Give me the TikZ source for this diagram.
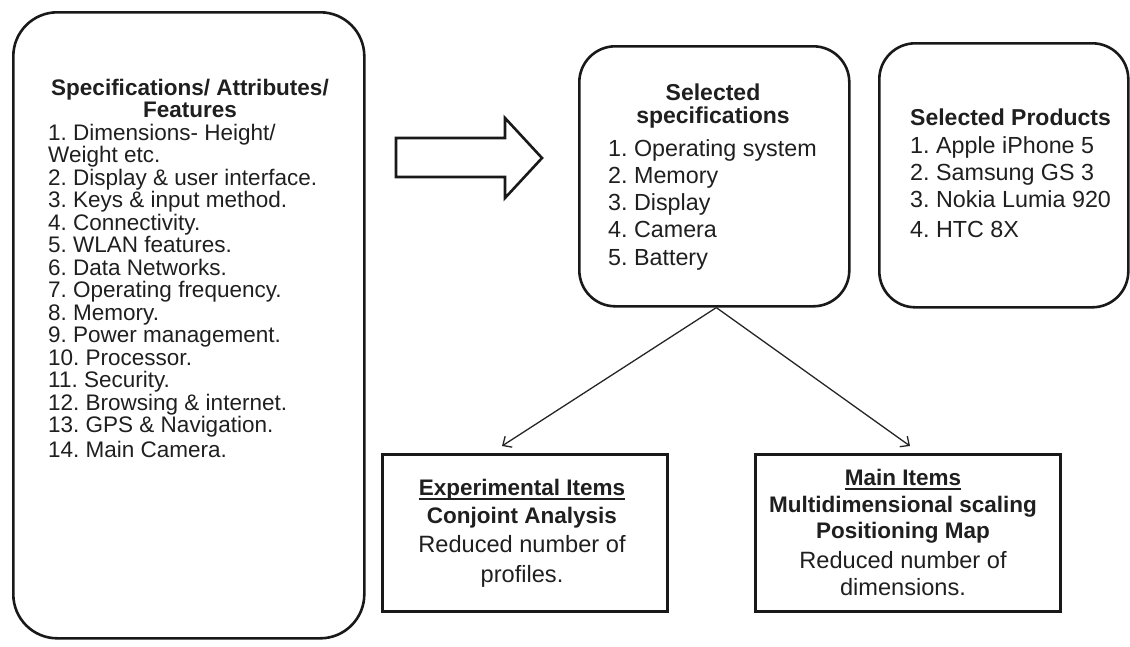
\documentclass[tikz,border=0pt]{standalone}
\usepackage{fontspec}
\setmainfont{Liberation Sans}
\usetikzlibrary{arrows.meta,calc}
\frenchspacing

\begin{document}
\begin{tikzpicture}[x=1pt,y=-1pt,
  rbox/.style={draw=black!90, line width=2.6pt, rectangle, inner sep=0pt, anchor=north west},
  sbox/.style={draw=black!90, line width=3.4pt, rectangle, inner sep=0pt, anchor=north west},
  txt/.style={anchor=base west, inner sep=0pt, text=black!88, font=\fontsize{#1}{22}\selectfont},
  txt/.default=22.5,
  ctxt/.style={anchor=base, inner sep=0pt, text=black!88, font=\fontsize{#1}{22}\selectfont},
  ctxt/.default=22.5,
  btxt/.style={anchor=base, inner sep=0pt, text=black!88, font=\fontsize{#1}{22}\selectfont\bfseries},
  btxt/.default=22.5,
  uline/.style={draw=black!88, line width=1.2pt},
  conn/.style={draw=black!85, line width=1.3pt, -{Straight Barb[length=7pt,width=13pt,line width=1.3pt]}}
]
\useasboundingbox (0,0) rectangle (1130,646);

% boxes
\node[rbox, rounded corners=44pt, minimum width=351pt, minimum height=626pt] (feat) at (12,11) {};
\node[rbox, rounded corners=36pt, minimum width=270pt, minimum height=260pt] (specs) at (578,45) {};
\node[rbox, rounded corners=36pt, minimum width=249pt, minimum height=264pt] (prod) at (878,42) {};
\node[sbox, minimum width=285pt, minimum height=157pt] (exp) at (381,453) {};
\node[sbox, minimum width=305pt, minimum height=157pt] (mds) at (754,453) {};

% block arrow between the feature list and the selection
\draw[draw=black!90, line width=2.6pt, fill=white, line join=miter]
  (396,138) -- (505,138) -- (505,118) -- (542,158) -- (505,198) -- (505,177) -- (396,177) -- cycle;

% feature list
\node[btxt] (ft1) at (190,95) {Specifications/ Attributes/};
\node[btxt] (ft2) at (190,117) {Features};
\node[txt] (f1)  at (48,140)   {1. Dimensions- Height/};
\node[txt] (f1b) at (48,162.5) {Weight etc.};
\node[txt] (f2)  at (48,185)   {2. Display \& user interface.};
\node[txt] (f3)  at (48,207.5) {3. Keys \& input method.};
\node[txt] (f4)  at (48,230)   {4. Connectivity.};
\node[txt] (f5)  at (48,252.5) {5. WLAN features.};
\node[txt] (f6)  at (48,275)   {6. Data Networks.};
\node[txt] (f7)  at (48,297.5) {7. Operating frequency.};
\node[txt] (f8)  at (48,320)   {8. Memory.};
\node[txt] (f9)  at (48,342.5) {9. Power management.};
\node[txt] (f10) at (48,365)   {10. Processor.};
\node[txt] (f11) at (48,387.5) {11. Security.};
\node[txt] (f12) at (48,410)   {12. Browsing \& internet.};
\node[txt] (f13) at (48,432.5) {13. GPS \& Navigation.};
\node[txt] (f14) at (48,457)   {14. Main Camera.};

% selected specifications
\node[btxt=23] (st1) at (713,100) {Selected};
\node[btxt=23] (st2) at (713,123) {specifications};
\node[txt=23.3] (s1) at (608,156) {1. Operating system};
\node[txt=23.3] (s2) at (608,183) {2. Memory};
\node[txt=23.3] (s3) at (608,210) {3. Display};
\node[txt=23.3] (s4) at (608,237) {4. Camera};
\node[txt=23.3] (s5) at (608,265) {5. Battery};

% selected products
\node[btxt=23, anchor=base west] (pt) at (910,125) {Selected Products};
\node[txt=23.3] (p1) at (910,153) {1. Apple iPhone 5};
\node[txt=23.3] (p2) at (910,180) {2. Samsung GS 3};
\node[txt=23.3] (p3) at (910,207) {3. Nokia Lumia 920};
\node[txt=23.3] (p4) at (910,237) {4. HTC 8X};

% experimental items
\node[btxt=22.5] (et1) at (522,495) {Experimental Items};
\draw[uline] ($(et1.base west)+(0,4)$) -- ($(et1.base east)+(0,4)$);
\node[btxt=22.5] (et2) at (522,523) {Conjoint Analysis};
\node[ctxt=23.6] (et3) at (522,552) {Reduced number of};
\node[ctxt=23.6] (et4) at (522,582) {profiles.};

% main items
\node[btxt=22.5] (mt1) at (903,485) {Main Items};
\draw[uline] ($(mt1.base west)+(0,4)$) -- ($(mt1.base east)+(0,4)$);
\node[btxt=22.5] (mt2) at (903,512) {Multidimensional scaling};
\node[btxt=22.5] (mt3) at (903,538) {Positioning Map};
\node[ctxt=23.6] (mt4) at (903,568) {Reduced number of};
\node[ctxt=23.6] (mt5) at (903,595) {dimensions.};

% connectors
\coordinate (expin) at (502,446);
\coordinate (mdsin) at (910,446);
\coordinate (split) at ($(specs.south)+(2,0)$);
\draw[conn] (split) -- (expin);
\draw[conn] (split) -- (mdsin);
\end{tikzpicture}
\end{document}
